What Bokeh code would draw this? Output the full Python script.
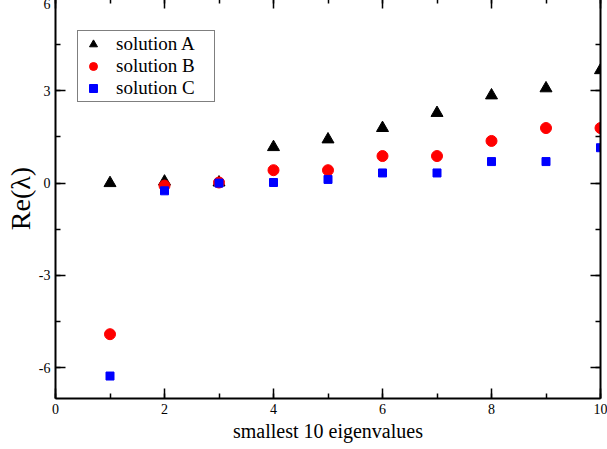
from bokeh.plotting import figure
from bokeh.models import (Range1d, SingleIntervalTicker, LinearAxis, Legend, LegendItem,
                          ColumnDataSource, PrintfTickFormatter)
from bokeh.embed import file_html
from bokeh.resources import INLINE

# ---- data ----
eigen_index = [1, 2, 3, 4, 5, 6, 7, 8, 9, 10]
solution_a = [0.0, 0.05, 0.02, 1.17, 1.42, 1.79, 2.28, 2.85, 3.08, 3.67]
solution_b = [-4.91, -0.08, 0.02, 0.42, 0.42, 0.88, 0.88, 1.37, 1.79, 1.79]
solution_c = [-6.27, -0.25, 0.0, 0.02, 0.12, 0.33, 0.33, 0.70, 0.70, 1.15]
series_names = ["solution A", "solution B", "solution C"]
x_title = "smallest 10 eigenvalues"
y_title = "Re(λ)"

FONT = "Liberation Serif"

p = figure(width=606, height=451, x_range=Range1d(0, 10), y_range=Range1d(-7, 6),
           output_backend="svg", toolbar_location=None,
           min_border_left=54, min_border_right=7, min_border_top=0, min_border_bottom=51,
           x_axis_type=None, y_axis_type=None)
p.styles = {"position": "absolute", "top": "-2px", "left": "1px"}
p.grid.visible = False
p.outline_line_color = None
p.background_fill_color = "white"


def style_axis(ax, labels=True):
    ax.axis_line_color = "black"
    ax.axis_line_width = 2
    ax.major_tick_line_color = "black"
    ax.major_tick_line_width = 1.5
    ax.minor_tick_line_color = "black"
    ax.minor_tick_line_width = 1.5
    ax.major_tick_in = 10
    ax.major_tick_out = 0
    ax.minor_tick_in = 5
    ax.minor_tick_out = 0
    ax.major_label_text_font = FONT
    ax.formatter = PrintfTickFormatter(format="%d")
    if labels:
        ax.major_label_text_font_size = "14px"
        ax.major_label_text_color = "black"
    else:
        ax.major_label_text_color = None
        ax.major_label_text_font_size = "1px"
        ax.major_label_standoff = 0


xb = LinearAxis(ticker=SingleIntervalTicker(interval=2, num_minor_ticks=2))
style_axis(xb)
xb.major_label_standoff = 5
xb.axis_label = x_title
xb.axis_label_text_font = FONT
xb.axis_label_text_font_style = "normal"
xb.axis_label_text_font_size = "20px"
xb.axis_label_text_color = "black"
xb.axis_label_standoff = 3
p.add_layout(xb, "below")

xt = LinearAxis(ticker=SingleIntervalTicker(interval=2, num_minor_ticks=2))
style_axis(xt, labels=False)
p.add_layout(xt, "above")

yl = LinearAxis(ticker=SingleIntervalTicker(interval=3, num_minor_ticks=2))
style_axis(yl)
yl.major_label_standoff = 5
yl.axis_label = y_title
yl.axis_label_text_font = FONT
yl.axis_label_text_font_style = "normal"
yl.axis_label_text_font_size = "28px"
yl.axis_label_text_color = "black"
yl.axis_label_standoff = 0
p.add_layout(yl, "left")

yr = LinearAxis(ticker=SingleIntervalTicker(interval=3, num_minor_ticks=2))
style_axis(yr, labels=False)
p.add_layout(yr, "right")

src = ColumnDataSource(dict(x=eigen_index, a=solution_a, b=solution_b, c=solution_c))
ra = p.scatter("x", "a", source=src, marker="triangle", size=12, color="black")
rb = p.scatter("x", "b", source=src, marker="circle", size=11, color="red")
rc = p.scatter("x", "c", source=src, marker="square", size=8, color="blue")

legend = Legend(items=[LegendItem(label=series_names[0], renderers=[ra]),
                       LegendItem(label=series_names[1], renderers=[rb]),
                       LegendItem(label=series_names[2], renderers=[rc])],
                location=(22, 296))
legend.border_line_color = "black"
legend.border_line_width = 1
legend.background_fill_color = "white"
legend.background_fill_alpha = 1
legend.label_text_font = FONT
legend.label_text_font_size = "19px"
legend.label_text_color = "black"
legend.label_height = 20
legend.label_width = 96
legend.glyph_width = 26
legend.glyph_height = 20
legend.spacing = 0
legend.padding = 2
legend.margin = 0
legend.label_standoff = 10
p.add_layout(legend)

open("out.html", "w").write(file_html(p, INLINE))
